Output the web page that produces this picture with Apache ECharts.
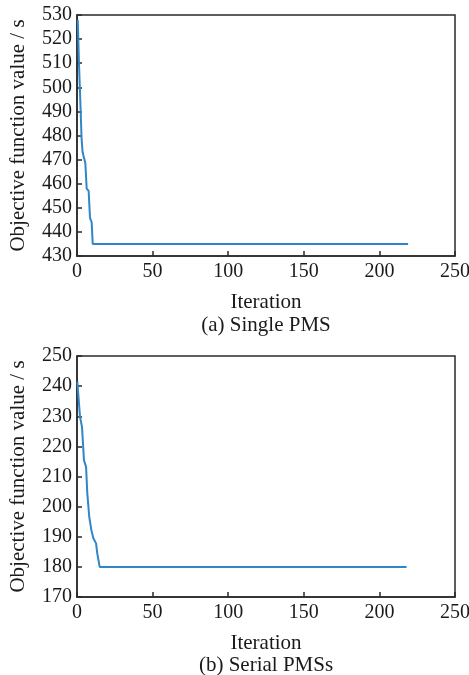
<!DOCTYPE html>
<html>
<head>
<meta charset="utf-8">
<script src="https://cdn.jsdelivr.net/npm/echarts@6/dist/echarts.min.js"></script>
<style>
html,body{margin:0;padding:0;background:#fff;}
#chart{width:469px;height:675px;}
</style>
</head>
<body>
<div id="chart"></div>
<script>
// Data
var singleIter = [0.5, 1.3, 2.4, 3, 3.7, 4.6, 5.5, 6.4, 7.7, 8.6, 9.7, 10.4, 219];
var singleVal  = [528, 510, 490.6, 479, 473, 472.5, 468.6, 458, 457, 445.8, 444, 435, 435];
var serialIter = [0.2, 1, 2, 3.3, 4.6, 6, 6.8, 8.1, 9.5, 10.8, 12.6, 13.4, 15, 218];
var serialVal  = [241.5, 241, 229.8, 226.5, 215.4, 213.2, 204.5, 196.6, 192.2, 189.5, 187.8, 184.5, 180, 180];
var xTicks = [0, 50, 100, 150, 200, 250];
var titles = ['(a) Single PMS', '(b) Serial PMSs'];
var xName = 'Iteration';
var yName = 'Objective function value / s';

function pairs(xs, ys){ return xs.map(function(x,i){ return [x, ys[i]]; }); }

var font = 'Liberation Serif';
var txt = '#1a1a1a';
var axisCol = '#2a2a2a';

function xAxisCfg(idx){
  return {
    type:'value', gridIndex: idx, min: xTicks[0], max: xTicks[xTicks.length-1], interval: 50,
    name: xName, nameLocation:'middle', nameGap: 36,
    nameTextStyle:{fontFamily:font, fontSize:21, color:txt},
    axisLine:{show:true, lineStyle:{color:axisCol, width:1.5}},
    axisTick:{show:true, inside:true, length:5, lineStyle:{color:axisCol, width:1.5}},
    axisLabel:{fontFamily:font, fontSize:20, color:txt, margin:6},
    splitLine:{show:false}
  };
}
function yAxisCfg(idx, mn, mx){
  return {
    type:'value', gridIndex: idx, min: mn, max: mx, interval: 10,
    name: yName, nameLocation:'middle', nameGap: 48,
    nameTextStyle:{fontFamily:font, fontSize:21, color:txt},
    axisLine:{show:true, lineStyle:{color:axisCol, width:1.5}},
    axisTick:{show:true, inside:true, length:5, lineStyle:{color:axisCol, width:1.5}},
    axisLabel:{fontFamily:font, fontSize:20, color:txt, margin:5},
    splitLine:{show:false}
  };
}

var chart = echarts.init(document.getElementById('chart'), null, {renderer:'canvas'});
chart.setOption({
  backgroundColor:'#fff',
  animation:false,
  title:[
    {text: titles[0], left: 266, top: 315, textAlign:'center', padding:0, textStyle:{fontFamily:font, fontSize:21, fontWeight:'normal', color:txt}},
    {text: titles[1], left: 266, top: 655, textAlign:'center', padding:0, textStyle:{fontFamily:font, fontSize:21, fontWeight:'normal', color:txt}}
  ],
  grid:[
    {left:77, top:15, width:378, height:241, show:true, borderColor:axisCol, borderWidth:1.5, backgroundColor:'transparent', containLabel:false, outerBoundsMode:'none'},
    {left:77, top:356, width:378, height:241, show:true, borderColor:axisCol, borderWidth:1.5, backgroundColor:'transparent', containLabel:false, outerBoundsMode:'none'}
  ],
  xAxis:[xAxisCfg(0), xAxisCfg(1)],
  yAxis:[yAxisCfg(0, 430, 530), yAxisCfg(1, 170, 250)],
  series:[
    {type:'line', xAxisIndex:0, yAxisIndex:0, data: pairs(singleIter, singleVal), showSymbol:false, symbol:'none',
     lineStyle:{color:'#2f86c8', width:2}},
    {type:'line', xAxisIndex:1, yAxisIndex:1, data: pairs(serialIter, serialVal), showSymbol:false, symbol:'none',
     lineStyle:{color:'#2f86c8', width:2}}
  ]
});
</script>
</body>
</html>
